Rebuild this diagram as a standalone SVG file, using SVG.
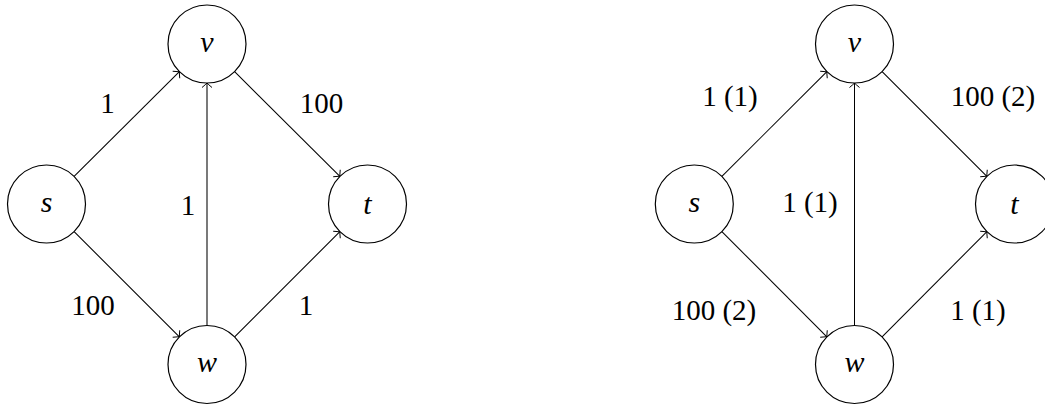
<svg xmlns="http://www.w3.org/2000/svg" width="1045" height="406" viewBox="0 0 1045 406">
<style>
.n{fill:#fff;stroke:#000;stroke-width:1.2}
.e{stroke:#000;stroke-width:1.05;fill:none;marker-end:url(#a)}
.nl{font-family:'Liberation Serif','DejaVu Serif',serif;font-style:italic;font-size:30px;text-anchor:middle}
.el{font-family:'Liberation Serif','DejaVu Serif',serif;font-size:29px;text-anchor:middle}
</style>
<defs>
<marker id="a" markerUnits="userSpaceOnUse" viewBox="-6 -6 8 12" markerWidth="8" markerHeight="12" refX="0" refY="0" orient="auto" overflow="visible">
<path d="M-4.5,-5 Q-1.3,-1.1 0,0 Q-1.3,1.1 -4.5,5" fill="none" stroke="#000" stroke-width="1"/>
</marker>
</defs>
<rect width="1045" height="406" fill="#fff"/>
<g id="connectors">
<line class="e" x1="74.1" y1="176.4" x2="179.4" y2="71.6"/>
<line class="e" x1="74.1" y1="231.6" x2="179.4" y2="336.9"/>
<line class="e" x1="207" y1="325.5" x2="207" y2="83"/>
<line class="e" x1="234.6" y1="71.6" x2="339.9" y2="176.4"/>
<line class="e" x1="234.6" y1="336.9" x2="339.9" y2="231.6"/>
<line class="e" x1="721.9" y1="176.4" x2="826.9" y2="71.6"/>
<line class="e" x1="721.9" y1="231.6" x2="826.9" y2="336.9"/>
<line class="e" x1="854.5" y1="325.5" x2="854.5" y2="83"/>
<line class="e" x1="882.1" y1="71.6" x2="986.9" y2="176.4"/>
<line class="e" x1="882.1" y1="336.9" x2="986.9" y2="231.6"/>
<text class="el" x="107.5" y="113">1</text>
<text class="el" x="321.5" y="113">100</text>
<text class="el" x="188" y="215">1</text>
<text class="el" x="93" y="315">100</text>
<text class="el" x="306" y="315">1</text>
<text class="el" x="730" y="106">1 (1)</text>
<text class="el" x="993" y="106">100 (2)</text>
<text class="el" x="810" y="212">1 (1)</text>
<text class="el" x="714" y="320">100 (2)</text>
<text class="el" x="978" y="320">1 (1)</text>
</g>
<g id="L-s"><circle class="n" cx="46.5" cy="204" r="39"/><text class="nl" x="46.5" y="212">s</text></g>
<g id="L-v"><circle class="n" cx="207" cy="44" r="39"/><text class="nl" x="207" y="52">v</text></g>
<g id="L-t"><circle class="n" cx="367.5" cy="204" r="39"/><text class="nl" x="367.5" y="214">t</text></g>
<g id="L-w"><circle class="n" cx="207" cy="364.5" r="39"/><text class="nl" x="207" y="372">w</text></g>
<g id="R-s"><circle class="n" cx="694.3" cy="204" r="39"/><text class="nl" x="694.3" y="212">s</text></g>
<g id="R-v"><circle class="n" cx="854.5" cy="44" r="39"/><text class="nl" x="854.5" y="52">v</text></g>
<g id="R-t"><circle class="n" cx="1014.5" cy="204" r="39"/><text class="nl" x="1014.5" y="214">t</text></g>
<g id="R-w"><circle class="n" cx="854.5" cy="364.5" r="39"/><text class="nl" x="854.5" y="372">w</text></g>
</svg>
